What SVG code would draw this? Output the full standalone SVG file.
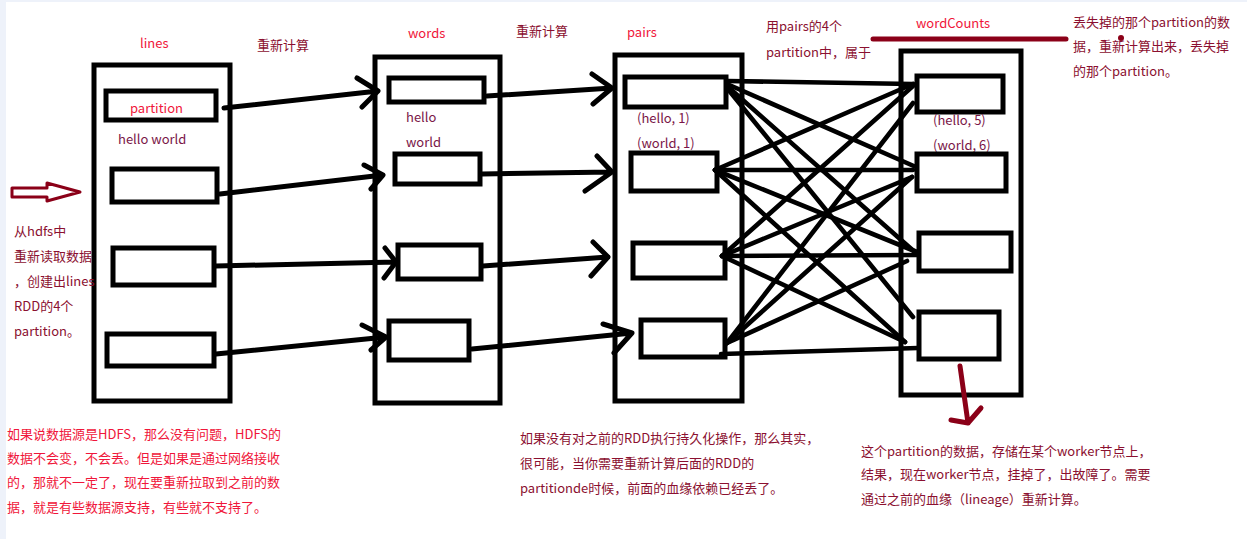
<svg xmlns="http://www.w3.org/2000/svg" width="1247" height="539" viewBox="0 0 1247 539">
<style>
.t{font-family:"Noto Sans CJK SC","Noto Sans",sans-serif;font-size:13px}
.red{fill:#f0163a}
.dr{fill:#8b1030}
.pu{fill:#7a1648}
.box{fill:none;stroke:#000;stroke-width:5}
.pb{fill:#fff;stroke:#000;stroke-width:5}
.c{fill:none;stroke:#000;stroke-width:5;stroke-linecap:round;stroke-linejoin:round}
.x{fill:none;stroke:#000;stroke-width:4.6;stroke-linecap:round}
.m{fill:none;stroke:#8b0018;stroke-width:5;stroke-linecap:round;stroke-linejoin:round}
</style>
<rect x="0" y="0" width="1247" height="539" fill="#fff"/>
<rect x="0" y="0" width="6" height="539" fill="#eef2fa"/>
<rect x="0" y="0" width="1247" height="2" fill="#eef2fa"/>

<g id="lines">
<rect class="box" x="94" y="65" width="136" height="336"/>
<text class="t red" x="140" y="48">lines</text>
<rect class="pb" x="106" y="91" width="110" height="29"/>
<text class="t red" x="130" y="113">partition</text>
<text class="t pu" x="118" y="144">hello world</text>
<rect class="pb" x="112" y="169" width="105" height="33"/>
<rect class="pb" x="113" y="248" width="101" height="37"/>
<rect class="pb" x="107" y="334" width="107" height="32"/>
</g>

<g id="words">
<rect class="box" x="375" y="57" width="125" height="346"/>
<text class="t red" x="408" y="38">words</text>
<rect class="pb" x="389" y="78" width="95" height="24"/>
<text class="t pu" x="406" y="122">hello</text>
<text class="t pu" x="406" y="147">world</text>
<rect class="pb" x="395" y="154" width="85" height="30"/>
<rect class="pb" x="398" y="245" width="83" height="34"/>
<rect class="pb" x="389" y="321" width="80" height="39"/>
</g>

<g id="pairs">
<rect class="box" x="615" y="55" width="127" height="346"/>
<text class="t red" x="627" y="37">pairs</text>
<rect class="pb" x="625" y="77" width="101" height="30"/>
<text class="t pu" x="637" y="123">(hello, 1)</text>
<text class="t pu" x="637" y="148">(world, 1)</text>
<rect class="pb" x="631" y="153" width="86" height="38"/>
<rect class="pb" x="633" y="243" width="92" height="35"/>
<rect class="pb" x="641" y="320" width="84" height="37"/>
</g>

<g id="wordCounts">
<rect class="box" x="901" y="51" width="120" height="344"/>
<text class="t red" x="916" y="28">wordCounts</text>
<line class="m" x1="873" y1="39" x2="1066" y2="39"/>
<circle cx="1121" cy="38" r="3" fill="#8b0018"/>
<rect class="pb" x="917" y="76" width="86" height="36"/>
<text class="t pu" x="933" y="125">(hello, 5)</text>
<text class="t pu" x="933" y="150">(world, 6)</text>
<rect class="pb" x="917" y="154" width="89" height="37"/>
<rect class="pb" x="919" y="233" width="92" height="38"/>
<rect class="pb" x="919" y="312" width="80" height="47"/>
</g>

<g id="connectors">
<path class="c" d="M224,108 L378,91 M357,78 L378,91 L362,107"/>
<path class="c" d="M220,194 L383,175 M364,165 L383,175 L371,189"/>
<path class="c" d="M216,266 L396,262 M385,248 L396,262 L384,278"/>
<path class="c" d="M216,354 L386,337 M362,325 L386,337 L371,350"/>
<path class="c" d="M487,96 L612,88 M592,74 L612,88 L593,104"/>
<path class="c" d="M482,174 L612,172 M597,156 L612,172 L585,191"/>
<path class="c" d="M483,266 L608,257 M593,242 L608,257 L591,276"/>
<path class="c" d="M472,349 L632,333 M603,324 L632,333 L614,353"/>
<line class="x" x1="727" y1="81" x2="913" y2="84"/>
<line class="x" x1="727" y1="84" x2="916" y2="167"/>
<line class="x" x1="727" y1="86" x2="917" y2="254"/>
<line class="x" x1="727" y1="88" x2="913" y2="317"/>
<line class="x" x1="715" y1="170" x2="913" y2="84"/>
<line class="x" x1="715" y1="170" x2="913" y2="170"/>
<line class="x" x1="715" y1="170" x2="917" y2="252"/>
<line class="x" x1="715" y1="170" x2="905" y2="342"/>
<line class="x" x1="722" y1="256" x2="913" y2="86"/>
<line class="x" x1="722" y1="256" x2="912" y2="177"/>
<line class="x" x1="722" y1="256" x2="917" y2="255"/>
<line class="x" x1="722" y1="256" x2="905" y2="342"/>
<line class="x" x1="727" y1="343" x2="913" y2="103"/>
<line class="x" x1="727" y1="343" x2="912" y2="177"/>
<line class="x" x1="727" y1="343" x2="907" y2="261"/>
<line class="x" x1="721" y1="354" x2="918" y2="348"/>
<path class="m" d="M960,366 L968,423 M951,420 L968,423 L981,408"/>
<polygon points="12,188 47,188 47,183 80,192 47,201 47,197 12,197" fill="#fff" stroke="#8b0018" stroke-width="3" stroke-linejoin="round"/>
</g>

<g id="notes">
<text class="t dr" x="257" y="50">重新计算</text>
<text class="t dr" x="516" y="36">重新计算</text>
<text class="t dr" x="766" y="31">用pairs的4个</text>
<text class="t dr" x="766" y="57">partition中，属于</text>
<text class="t dr" x="1073" y="27">丢失掉的那个partition的数</text>
<text class="t dr" x="1073" y="51">据，重新计算出来，丢失掉</text>
<text class="t dr" x="1073" y="76">的那个partition。</text>
<text class="t dr" x="14" y="236">从hdfs中</text>
<text class="t dr" x="14" y="261">重新读取数据</text>
<text class="t dr" x="14" y="286">，创建出lines</text>
<text class="t dr" x="14" y="311">RDD的4个</text>
<text class="t dr" x="14" y="336">partition。</text>
<text class="t red" x="7" y="439">如果说数据源是HDFS，那么没有问题，HDFS的</text>
<text class="t red" x="7" y="463">数据不会变，不会丢。但是如果是通过网络接收</text>
<text class="t red" x="7" y="487">的，那就不一定了，现在要重新拉取到之前的数</text>
<text class="t red" x="7" y="512">据，就是有些数据源支持，有些就不支持了。</text>
<text class="t dr" x="520" y="443">如果没有对之前的RDD执行持久化操作，那么其实，</text>
<text class="t dr" x="520" y="468">很可能，当你需要重新计算后面的RDD的</text>
<text class="t dr" x="520" y="493">partitionde时候，前面的血缘依赖已经丢了。</text>
<text class="t dr" x="861" y="456">这个partition的数据，存储在某个worker节点上，</text>
<text class="t dr" x="861" y="479">结果，现在worker节点，挂掉了，出故障了。需要</text>
<text class="t dr" x="861" y="504">通过之前的血缘（lineage）重新计算。</text>
</g>
</svg>
